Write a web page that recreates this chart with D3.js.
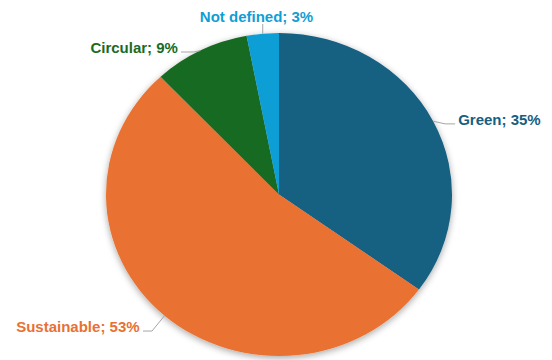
<!DOCTYPE html>
<html>
<head>
<meta charset="utf-8">
<script src="https://cdn.jsdelivr.net/npm/d3@7"></script>
<style>
  html, body { margin: 0; padding: 0; background: #ffffff; }
  svg { display: block; }
  text { font-family: "Liberation Sans", Arial, sans-serif; font-weight: bold; font-size: 15px; }
</style>
</head>
<body>
<svg id="chart" width="552" height="360"></svg>
<script>
// ---- Data ----
const categories = ["Green", "Sustainable", "Circular", "Not defined"];
const values = [35, 53, 9, 3];
const colors = ["#156082", "#E97132", "#196B24", "#0F9ED5"];

// ---- Layout (positions/styles, not data) ----
const W = 552, H = 360;
const cx = 279, cy = 194.5;
const ry = 161.5, rx = 173;
// leader-line elbows and label placement relative to the slice's edge point
const labelLayout = [
  { elbow: [12, 2.7], end: [22, 2.7], text: [25, 4.2], anchor: "start" },
  { elbow: [-12.6, 15.4], end: [-21.6, 15.4], text: [-25, 15.9], anchor: "end" },
  { elbow: [-6.5, 1.4], end: [-19.5, 1.4], text: [-22.5, 1.9], anchor: "end" },
  { elbow: [0, -9.7], end: [0, -9.7], text: [-6.2, -11.7], anchor: "middle" }
];

const data = categories.map((c, i) => ({ name: c, value: values[i], color: colors[i], layout: labelLayout[i] }));

const svg = d3.select("#chart");

const defs = svg.append("defs");
const filt = defs.append("filter").attr("id", "shadow")
  .attr("x", "-20%").attr("y", "-20%").attr("width", "140%").attr("height", "140%");
filt.append("feGaussianBlur").attr("in", "SourceAlpha").attr("stdDeviation", 3.5).attr("result", "blur");
filt.append("feOffset").attr("in", "blur").attr("dx", 0).attr("dy", 1.5).attr("result", "off");
filt.append("feComponentTransfer").attr("in", "off").attr("result", "sh")
  .append("feFuncA").attr("type", "linear").attr("slope", 0.35);
const merge = filt.append("feMerge");
merge.append("feMergeNode").attr("in", "sh");
merge.append("feMergeNode").attr("in", "SourceGraphic");

const pie = d3.pie().value(d => d.value).sort(null);
const arcs = pie(data);
const arc = d3.arc().innerRadius(0).outerRadius(ry);

const g = svg.append("g")
  .attr("transform", `translate(${cx},${cy}) scale(${rx / ry},1)`);

const slices = g.append("g").attr("filter", "url(#shadow)");
slices.selectAll("path")
  .data(arcs)
  .join("path")
  .attr("d", arc)
  .attr("fill", d => d.data.color);

// edge point of each slice at its mid-angle (on the ellipse)
function edgePoint(d) {
  const a = (d.startAngle + d.endAngle) / 2;
  return [cx + Math.sin(a) * rx, cy - Math.cos(a) * ry];
}

const labels = svg.append("g");
arcs.forEach(d => {
  const p = edgePoint(d);
  const L = d.data.layout;
  const pts = [p, [p[0] + L.elbow[0], p[1] + L.elbow[1]], [p[0] + L.end[0], p[1] + L.end[1]]];
  labels.append("path")
    .attr("d", d3.line()(pts))
    .attr("fill", "none")
    .attr("stroke", "#a6a6a6")
    .attr("stroke-width", 1);
  labels.append("text")
    .attr("x", p[0] + L.text[0])
    .attr("y", p[1] + L.text[1])
    .attr("text-anchor", L.anchor)
    .attr("fill", d.data.color)
    .text(`${d.data.name}; ${d.data.value}%`);
});
</script>
</body>
</html>
